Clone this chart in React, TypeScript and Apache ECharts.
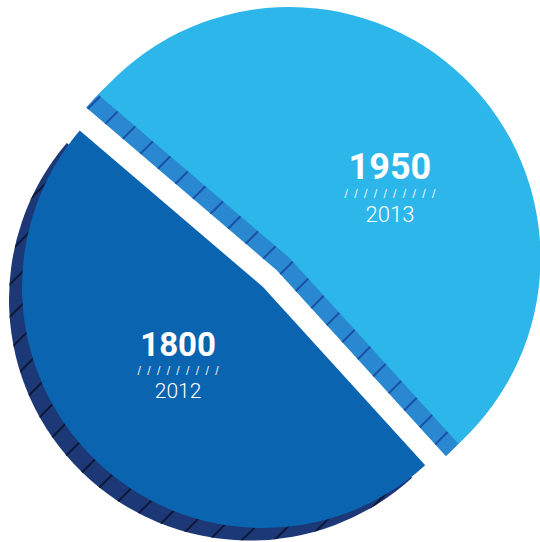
import React, { useEffect, useRef } from 'react';
import * as echarts from 'echarts';

// Data
const years = ['2013', '2012'];
const values = [1950, 1800];
const faceColors = ['#2cb6ea', '#0a64af'];
const sideColors = ['#2a88d0', '#1d3877'];
const stripeColors = ['#1a4fa6', '#0b1836'];
const dashCounts = [10, 9];

export default function App() {
  const ref = useRef<HTMLDivElement>(null);

  useEffect(() => {
    const chart = echarts.init(ref.current!, null, { renderer: 'svg' });
    const geo = [
      { center: [289.5, 258], radius: 251, shift: [-12.5, 12.5], big: 36, small: 22, dx: 11, dy: 22 },
      { center: [263, 287], radius: 241, shift: [-13, 12.5], big: 33, small: 21, dx: 1, dy: -10 },
    ];
    const clear = 'rgba(0,0,0,0)';
    const series: any[] = [];
    [1, 0].forEach((k) => {
      const g = geo[k];
      const mk = (side: boolean) => ({
        type: 'pie',
        silent: true,
        startAngle: 139.5,
        clockwise: true,
        center: side ? [g.center[0] + g.shift[0], g.center[1] + g.shift[1]] : g.center,
        radius: g.radius,
        avoidLabelOverlap: false,
        labelLine: { show: false },
        emphasis: { disabled: true },
        labelLayout: side ? undefined : { dx: g.dx, dy: g.dy },
        label: { show: false },
        data: years.map((y, i) => {
          const mine = i === k;
          return {
            name: y,
            value: values[i],
            itemStyle: mine
              ? {
                  color: side ? sideColors[k] : faceColors[k],
                  borderWidth: 0,
                  decal: side
                    ? {
                        symbol: 'rect',
                        symbolSize: 1,
                        color: stripeColors[k],
                        dashArrayX: [20, 0],
                        dashArrayY: [2, 21],
                        rotation: -Math.PI / 4,
                      }
                    : undefined,
                }
              : { color: clear, borderWidth: 0 },
            label:
              mine && !side
                ? {
                    show: true,
                    position: 'inside',
                    formatter: () =>
                      `{big|${values[i]}}\n{dash|${new Array(dashCounts[i]).fill('/').join('  ')}}\n{small|${y}}`,
                    rich: {
                      big: {
                        fontFamily: 'Roboto',
                        fontWeight: 'bold',
                        fontSize: g.big,
                        color: '#ffffff',
                        lineHeight: g.big + 2,
                        align: 'center',
                      },
                      dash: {
                        fontFamily: 'DejaVu Sans',
                        fontSize: 10,
                        color: '#ffffff',
                        lineHeight: 16,
                        align: 'center',
                      },
                      small: {
                        fontFamily: 'Roboto',
                        fontWeight: 300,
                        fontSize: g.small,
                        color: '#ffffff',
                        lineHeight: 26,
                        align: 'center',
                      },
                    },
                  }
                : { show: false },
          };
        }),
      });
      series.push(mk(true), mk(false));
    });

    chart.setOption({
      animation: false,
      backgroundColor: '#ffffff',
      tooltip: { show: false },
      series,
    });
    return () => chart.dispose();
  }, []);

  return (
    <div
      ref={ref}
      style={{ position: 'absolute', left: 0, top: 0, width: 540, height: 542 }}
    />
  );
}
